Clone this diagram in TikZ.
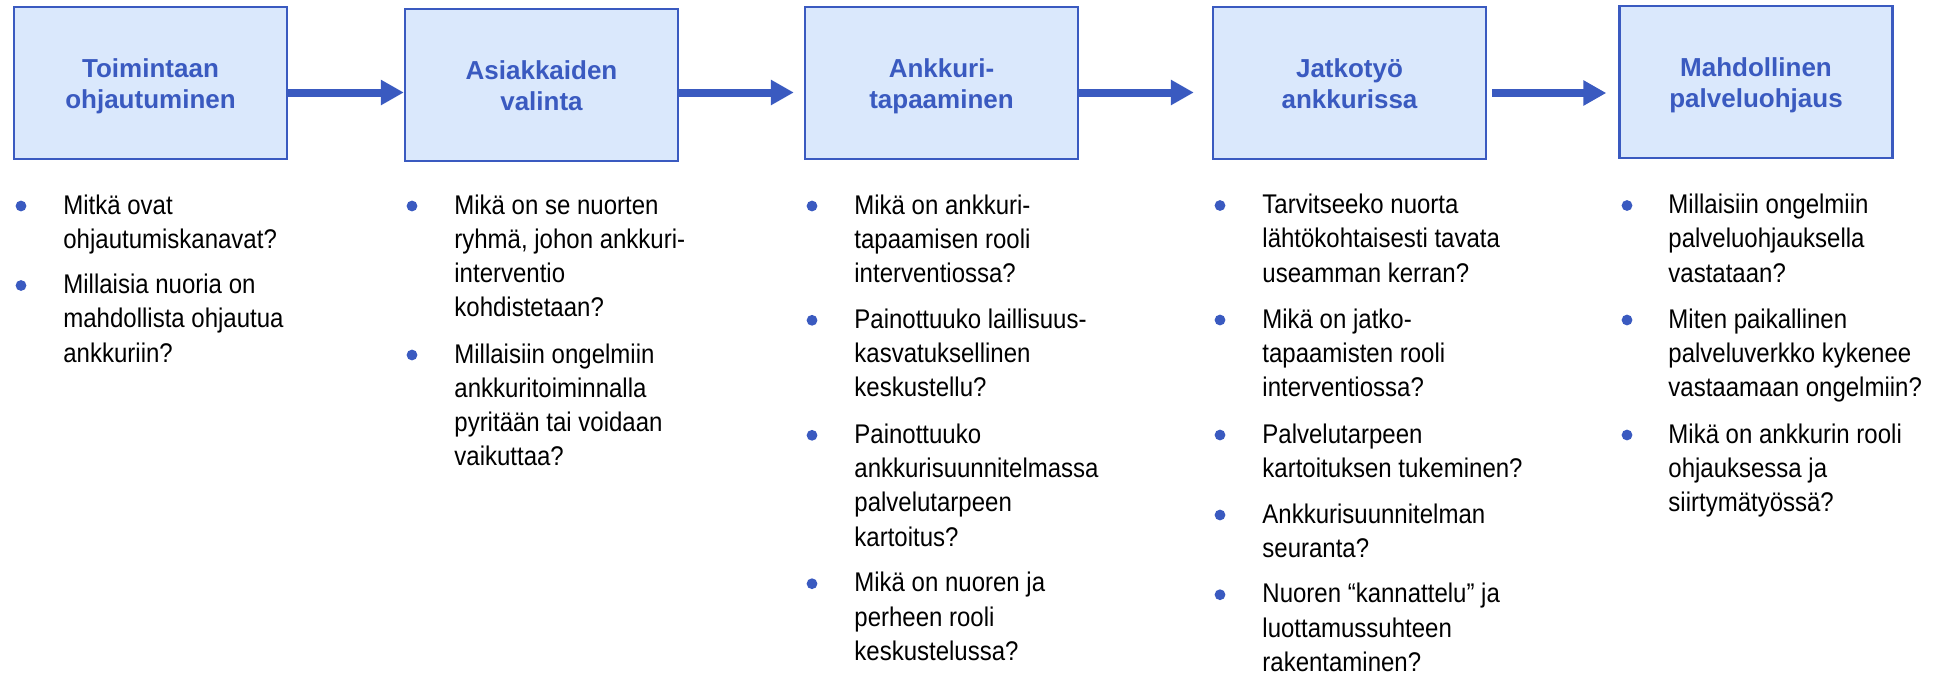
\documentclass[tikz,border=0pt]{standalone}
\usepackage{fontspec}
\setmainfont{Liberation Sans}
\newfontfamily\narrowsans[FakeStretch=0.889]{Liberation Sans}
\usetikzlibrary{arrows.meta}
\definecolor{flowblue}{HTML}{3A5AC0}
\definecolor{boxfill}{HTML}{DAE8FC}
\newcommand\qlines[1]{\begin{tabular}[t]{@{}l@{}}#1\end{tabular}}
\newcommand\slines[1]{\begin{tabular}[t]{@{}c@{}}#1\end{tabular}}
\begin{document}
\begin{tikzpicture}[x=0.5pt,y=-0.5pt,
  stage/.style={draw=flowblue, line width=1.2pt, fill=boxfill,
    minimum width=136.5pt, minimum height=76pt, inner sep=0pt},
  stagelabel/.style={anchor=base, inner sep=0pt, text=flowblue,
    font=\bfseries\fontsize{13pt}{15.5pt}\selectfont},
  flow/.style={draw=flowblue, line width=4pt,
    -{Triangle[length=11.5pt,width=12pt]}},
  dot/.style={circle, fill=flowblue, inner sep=0pt, minimum size=5.4pt},
  question/.style={anchor=base west, inner sep=0pt,
    font=\narrowsans\fontsize{13.5pt}{17.15pt}\selectfont}]
\useasboundingbox (0,0) rectangle (1946,675);

% stages
\node[stage] (b1) at (150.5,83) {};
\node[stage] (b2) at (541.5,85) {};
\node[stage] (b3) at (941.5,83) {};
\node[stage] (b4) at (1349.5,83) {};
\node[stage] (b5) at (1756,82) {};
\node[stagelabel] (t1) at ([yshift=3pt]b1.center) {\slines{Toimintaan\\ohjautuminen}};
\node[stagelabel] (t2) at ([yshift=3pt]b2.center) {\slines{Asiakkaiden\\valinta}};
\node[stagelabel] (t3) at ([yshift=3pt]b3.center) {\slines{Ankkuri-\\tapaaminen}};
\node[stagelabel] (t4) at ([yshift=3pt]b4.center) {\slines{Jatkotyö\\ankkurissa}};
\node[stagelabel] (t5) at ([yshift=3pt]b5.center) {\slines{Mahdollinen\\palveluohjaus}};

% arrows
\draw[flow] (b1.east |- 0,92.5) -- (b2.west |- 0,92.5);
\draw[flow, shorten >=5pt] (b2.east |- 0,92.5) -- (b3.west |- 0,92.5);
\draw[flow, shorten >=9pt] (b3.east |- 0,92.5) -- (b4.west |- 0,92.5);
\draw[flow, shorten <=2.5pt, shorten >=6pt] (b4.east |- 0,93) -- (b5.west |- 0,93);

% column 1
\node[dot] (d1a) at (21,206) {};
\node[question] (q1a) at (63,214) {\qlines{Mitkä ovat\\ohjautumiskanavat?}};
\node[dot] (d1b) at (21,285.5) {};
\node[question] (q1b) at (63,293.5) {\qlines{Millaisia nuoria on\\mahdollista ohjautua\\ankkuriin?}};

% column 2
\node[dot] (d2a) at (412,206) {};
\node[question] (q2a) at (454,214) {\qlines{Mikä on se nuorten\\ryhmä, johon ankkuri-\\interventio\\kohdistetaan?}};
\node[dot] (d2b) at (412,355) {};
\node[question] (q2b) at (454,363) {\qlines{Millaisiin ongelmiin\\ankkuritoiminnalla\\pyritään tai voidaan\\vaikuttaa?}};

% column 3
\node[dot] (d3a) at (812,206) {};
\node[question] (q3a) at (854,214) {\qlines{Mikä on ankkuri-\\tapaamisen rooli\\interventiossa?}};
\node[dot] (d3b) at (812,320.3) {};
\node[question] (q3b) at (854,328.3) {\qlines{Painottuuko laillisuus-\\kasvatuksellinen\\keskustellu?}};
\node[dot] (d3c) at (812,435.3) {};
\node[question] (q3c) at (854,443.3) {\qlines{Painottuuko\\ankkurisuunnitelmassa\\palvelutarpeen\\kartoitus?}};
\node[dot] (d3d) at (812,583.7) {};
\node[question] (q3d) at (854,591.7) {\qlines{Mikä on nuoren ja\\perheen rooli\\keskustelussa?}};

% column 4
\node[dot] (d4a) at (1220,205.5) {};
\node[question] (q4a) at (1262,213.5) {\qlines{Tarvitseeko nuorta\\lähtökohtaisesti tavata\\useamman kerran?}};
\node[dot] (d4b) at (1220,320) {};
\node[question] (q4b) at (1262,328) {\qlines{Mikä on jatko-\\tapaamisten rooli\\interventiossa?}};
\node[dot] (d4c) at (1220,435) {};
\node[question] (q4c) at (1262,443) {\qlines{Palvelutarpeen\\kartoituksen tukeminen?}};
\node[dot] (d4d) at (1220,515) {};
\node[question] (q4d) at (1262,523) {\qlines{Ankkurisuunnitelman\\seuranta?}};
\node[dot] (d4e) at (1220,594.7) {};
\node[question] (q4e) at (1262,602.7) {\qlines{Nuoren “kannattelu” ja\\luottamussuhteen\\rakentaminen?}};

% column 5
\node[dot] (d5a) at (1627,205.5) {};
\node[question] (q5a) at (1668,213.5) {\qlines{Millaisiin ongelmiin\\palveluohjauksella\\vastataan?}};
\node[dot] (d5b) at (1627,320) {};
\node[question] (q5b) at (1668,328) {\qlines{Miten paikallinen\\palveluverkko kykenee\\vastaamaan ongelmiin?}};
\node[dot] (d5c) at (1627,435) {};
\node[question] (q5c) at (1668,443) {\qlines{Mikä on ankkurin rooli\\ohjauksessa ja\\siirtymätyössä?}};
\end{tikzpicture}
\end{document}
